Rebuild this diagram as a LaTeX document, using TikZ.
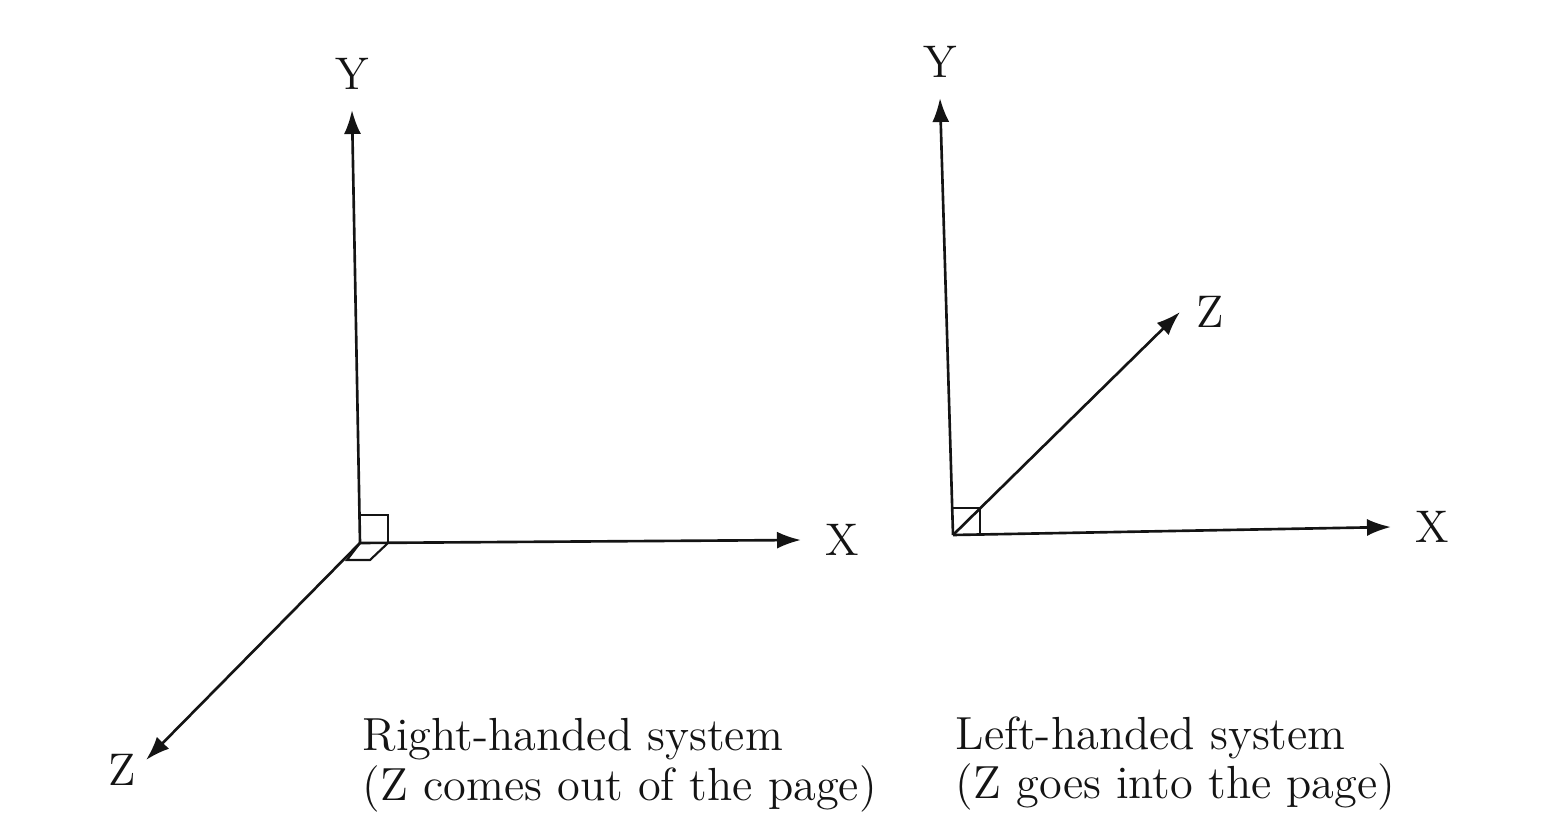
\documentclass[tikz,border=0pt]{standalone}
\usepackage{tikz}
\usetikzlibrary{arrows.meta,positioning,calc}
\definecolor{Ink}{RGB}{20,20,20}
\tikzset{
  axis/.style={-{Latex[length=2.4mm,width=1.7mm]}, draw=Ink, line width=0.75pt},
  rtbox/.style={draw=Ink, line width=0.6pt},
  axlab/.style={text=Ink, font=\fontsize{13}{14}\selectfont, inner sep=1pt},
  caption/.style={text=Ink, align=left, font=\fontsize{13.2}{14}\selectfont, inner sep=0pt, anchor=north west},
}

\begin{document}
\begin{tikzpicture}[x=0.01cm, y=-0.01cm]
\useasboundingbox (0,0) rectangle (1564,840);

% ---------------- right-handed system ----------------
\coordinate (oR) at (360,543);
\coordinate (yR) at (352,110);
\coordinate (xR) at (801,540);
\coordinate (zR) at (146,760);
\node[axlab, above=1.6mm of yR] (yRl) {Y};
\node[axlab, right=2mm of xR] (xRl) {X};
\node[axlab, below left=-1mm and 0.6mm of zR] (zRl) {Z};

\draw[axis] (oR) -- (yR);
\draw[axis] (oR) -- (xR);
\draw[axis] (oR) -- (zR);
% right-angle marks
\draw[rtbox] (oR) -- ++(0,-28) -- ++(28,0) -- ++(0,28);
\draw[rtbox] (oR) -- ++(-13,17) -- ++(23,0) -- ++(18,-17);

\node[caption] (capR) at (362,718) {Right-handed system\\(Z comes out of the page)};

% ---------------- left-handed system ----------------
\coordinate (oL) at (953,535);
\coordinate (yL) at (940,98);
\coordinate (xL) at (1391,527);
\coordinate (zL) at (1180,312);
\node[axlab, above=1.6mm of yL] (yLl) {Y};
\node[axlab, right=2mm of xL] (xLl) {X};
\node[axlab, above right=-2mm and 1.2mm of zL] (zLl) {Z};

\draw[axis] (oL) -- (yL);
\draw[axis] (oL) -- (xL);
\draw[axis] (oL) -- (zL);
\draw[rtbox] (oL) ++(0,-27) -- ++(27,0) -- ++(0,27);

\node[caption] (capL) at (955,716) {Left-handed system\\(Z goes into the page)};

\end{tikzpicture}
\end{document}
